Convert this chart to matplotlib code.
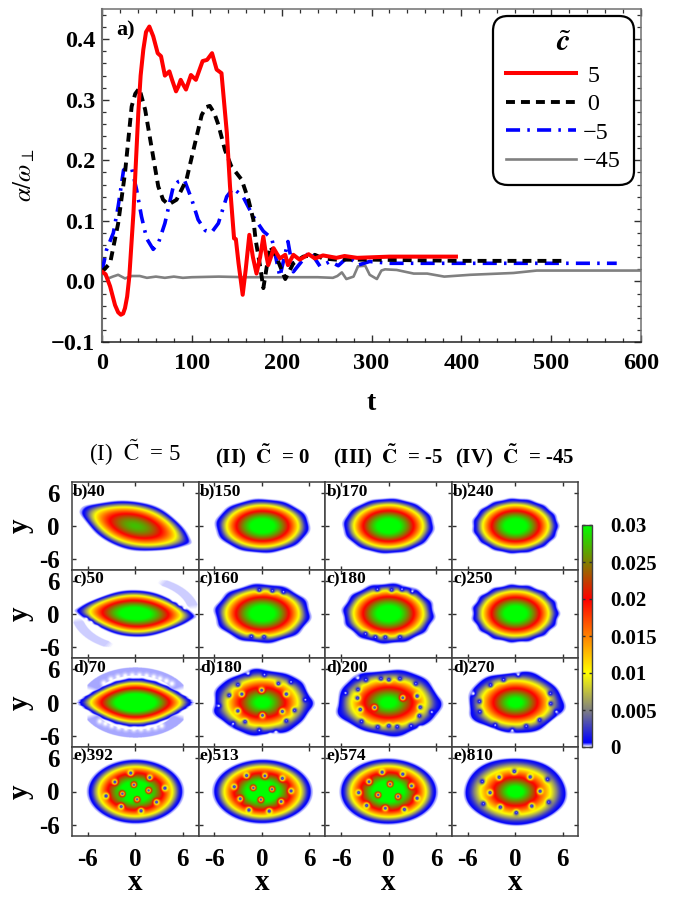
import numpy as np
import matplotlib
matplotlib.use("Agg")
import matplotlib.pyplot as plt
from matplotlib.colors import LinearSegmentedColormap, Normalize
from matplotlib.cm import ScalarMappable
from matplotlib.ticker import MultipleLocator

plt.rcParams['font.family'] = ['Liberation Serif', 'DejaVu Serif']
plt.rcParams['mathtext.fontset'] = 'stix'

# ---------- panel a) time series ----------
t_red = [0,4,9,14.5,18,21,23.5,25.6,28,30.4,35,40.4,43,46,49,52.7,57,62,65.7,70,75,78,82.4,85,87.6,90,93.5,99,104.5,112,117,122.5,127.6,133,139,142.5,147,149,152,156.6,160,164,168,172,176,179.6,182,185,188,191,195,198,204,207,213,220,230,237,246,261,270,284,320,394]
v_red = [.016,.012,-.008,-.039,-.051,-.055,-.053,-.044,-.025,.008,.113,.278,.34,.383,.412,.421,.405,.377,.372,.34,.347,.333,.314,.322,.333,.326,.317,.341,.333,.364,.366,.377,.35,.344,.245,.157,.071,.07,.03,-.022,.02,.077,.04,.013,.04,.074,.05,.027,.04,.055,.045,.038,.044,.027,.044,.036,.045,.038,.043,.039,.042,.039,.041,.041]
t_blk = [0,9,18,25.6,33,37,41.5,48,55,62.6,68,74,83,94,103.5,111,116,120,125,129.5,136.9,144,155.5,163,168.5,171,176,179.6,187,194,204,213,224,237,246,261,300,400,512]
v_blk = [.016,.03,.096,.179,.289,.31,.319,.284,.223,.157,.135,.127,.135,.168,.228,.275,.288,.29,.278,.259,.217,.19,.168,.135,.102,.069,.025,-.011,.058,.041,.004,.03,.041,.044,.038,.036,.036,.034,.034]
t_blu = [0,5,12.6,18,24,28,33,38.6,44,49.7,57,62.7,70,79.4,85,91.6,100,107,115,122,129.5,138.8,146,157,168.5,179.6,189,198,207,213,231.5,242.7,254,263,274,285,298,320,450,573]
v_blu = [.016,.052,.08,.124,.184,.188,.187,.151,.107,.071,.053,.063,.096,.157,.165,.168,.135,.102,.084,.081,.096,.14,.154,.14,.107,.083,.071,.008,.066,.016,.05,.025,.033,.026,.041,.027,.033,.03,.03,.03]
t_gry = [0,7,12,18,25.6,33,42,50,60,70,80,90,100,130,160,200,240,257,262,267,272,280,285,293,298,306,311,315,328,347,362,381,410,458,484,533,600]
v_gry = [.016,.005,.008,.011,.005,.009,.009,.006,.008,.006,.008,.006,.007,.008,.007,.007,.007,.006,.009,.015,.004,.008,.025,.026,.011,.004,.018,.02,.019,.013,.013,.008,.011,.014,.018,.018,.018]
legend_labels = ['\u20095', '\u20090', '\u22125', '\u221245']

# ---------- density panels (row by row), values in plot units ----------
col_titles = [r'(I)  $\tilde{\mathrm{C}}$  = 5', r'(II)  $\mathbf{\tilde{C}}$  = 0',
              r'(III)  $\mathbf{\tilde{C}}$  = -5', r'(IV)  $\mathbf{\tilde{C}}$  = -45']
tags = ['b)40','b)150','b)170','b)240','c)50','c)160','c)180','c)250',
        'd)70','d)180','d)200','d)270','e)392','e)513','e)574','e)810']
semi_a = [7.5,5.9,5.7,5.4, 7.5,6.0,5.75,5.45, 7.2,6.2,6.5,6.0, 6.0,6.2,6.1,6.4]
semi_b = [4.3,4.9,5.0,5.0, 4.2,5.3,5.4,5.2, 4.4,5.9,5.9,5.5, 5.75,5.75,5.9,6.0]
tilt = [-24,0,0,0, -4,0,0,0, 0,0,0,0, 0,0,-3,-8]
lens = [.45,0,0,0, .55,0,0,0, .6,0,0,0, 0,0,0,0]
peak = [.0275,.033,.033,.033, .033,.033,.033,.033, .036,.032,.032,.032, .035,.035,.035,.034]
power = [1.8,1.8,1.8,1.8, 1.8,1.8,1.8,1.8, 1.8,1.4,1.4,1.4, 1.8,1.8,1.8,1.15]
edge_modes = [
    [(9,.008,0)], [(10,.012,1.6)], [(12,.01,1.6)], [(15,.012,0)],
    [(10,.006,0)], [(10,.022,1.6)], [(12,.02,1.6)], [(15,.018,0)],
    [(26,.012,0)], [(7,.03,.5),(11,.015,0)], [(5,.035,1),(9,.02,0)], [(5,.035,.4),(8,.022,2)],
    [(4,.004,0)], [(4,.004,.6)], [(3,.006,.3)], [(5,.012,.8)],
]
vortices = [
    [], [], [], [],
    [(4.8,2.5),(5.6,1.7),(6.2,1.0),(-6.2,-1),(-5.6,-1.6),(-4.9,-2.5)],
    [(-.4,4.25),(1.25,4.1),(2.65,3.9),(-1.4,-4.1),(.2,-4.2)],
    [(-1.4,4.35),(.4,4.25),(1.7,4.35),(3,3.95),(-2.9,-3.65),(-1.65,-4.25),(-.4,-4.25),(1.45,-4.25)],
    [],
    [(-4,3.5),(-3.1,4.2),(-2.2,4.6),(-1.3,4.8),(-.4,4.9),(.5,4.9),(1.4,4.8),(2.3,4.6),(3.1,4.3),(3.9,3.9),(4.6,3.4),
     (-4.5,-3.4),(-3.8,-3.8),(-3,-4.2),(-2.1,-4.5),(-1.2,-4.7),(-.2,-4.8),(.7,-4.8),(1.6,-4.7),(2.5,-4.5),(3.3,-4.2)],
    [(-.1,2.2),(-2.6,1.5),(3,1.5),(-3.1,3.2),(2,3.4),(.25,5),(-4.2,1.3),(-3.1,-1.5),(2.5,-1.6),(4.05,-1.4),(0,-2.3),
     (-2.2,-3.45),(3,-3.3),(-.4,-5),(5.4,.5),(-5.5,-.6),(-3.7,-3.8),(-1.8,5.2),(3.6,3.7),(1,-5.8),(1.7,-5.3)],
    [(-.95,4.3),(.05,4.1),(1.45,4.3),(3.45,3.4),(-2.85,4.1),(-3.85,2.35),(-3.9,.8),(3.6,1.15),(1.8,.85),(-1.75,-.9),(-3.55,-1.25),
     (4,-.85),(3.9,-2.4),(-3.4,-3.4),(-1.35,-4.4),(.05,-4.2),(1.1,-4.35),(2.85,-4.2),(-5.4,1.7),(-3.85,4.4),(5.45,-1.7),(4,-4.5)],
    [(-4.55,.2),(-4.5,-1.65),(-3.15,3.15),(-1.5,4.1),(.35,5),(4.4,1.65),(4.45,-.2),(5.15,-1.65),(3.05,-3.15),(1.35,-4.25),(-.4,-5),(-2.55,-4.05),(-5.3,1.6)],
    [(-.6,3.3),(1.8,2.5),(-2.6,1.7),(-.2,1.2),(3.7,.6),(1.65,.2),(-1.65,-.4),(-3.7,-.8),(.2,-1.4),(2.65,-1.9),(-1.8,-2.7),(.7,-3.45)],
    [(-2,2.85),(.3,2.8),(2.5,2.35),(-3.55,.85),(-1.15,.65),(1.2,.4),(3.6,.1),(-2.8,-1.3),(-.2,-1.45),(2.35,-1.8),(-1.7,-3.3),(.85,-3.5)],
    [(-.8,3.45),(1.8,3.1),(-2.45,1.75),(.2,1.3),(2.9,1),(-3.75,-.2),(-1.3,-.6),(1.2,-.9),(3.6,-1.2),(-2.75,-2.5),(-.4,-3),(2,-3.2)],
    [(-.15,3.6),(-2.05,2.55),(1.85,2.6),(-4.2,1.8),(4.05,2.2),(-3.2,-.2),(3.1,.05),(-4.05,-2.2),(4.2,-1.9),(-1.9,-2.8),(2.05,-2.6),(.1,-3.8)],
]
# low-density clouds: panel index, semi axes, relative thickness, angle range, level
clouds = {4: [(7.4,6.3,.09,6,68,.00013),(7.4,6.3,.09,186,248,.00013)],
          8: [(6.2,5.6,.13,22,158,.00022),(6.2,5.6,.13,202,338,.00022)]}
cbar_ticks = [0,.005,.01,.015,.02,.025,.03]
cbar_labels = ['0','0.005','0.01','0.015','0.02','0.025','0.03']

W, H = 673, 898
fig = plt.figure(figsize=(W/100, H/100), dpi=100)
def box(l, t, r, b):
    return [l/W, 1-b/H, (r-l)/W, (b-t)/H]

FRAME = '#303030'
# ---------- top plot ----------
ax = fig.add_axes(box(102, 9, 641, 342))
ax.plot(t_gry, v_gry, color='#808080', lw=1.9, label=legend_labels[3], zorder=2)
ax.plot(t_blu, v_blu, color='#0000ff', lw=2.6, dashes=(3.9,2,.7,2), dash_capstyle='butt', label=legend_labels[2], zorder=3)
ax.plot(t_blk, v_blk, color='black', lw=2.8, dashes=(2.3,1.55), dash_capstyle='butt', label=legend_labels[1], zorder=4)
ax.plot(t_red, v_red, color='#ff0000', lw=2.9, label=legend_labels[0], zorder=5)
ax.set_xlim(0, 600); ax.set_ylim(-.1, .45)
ax.xaxis.set_major_locator(MultipleLocator(100)); ax.xaxis.set_minor_locator(MultipleLocator(20))
ax.yaxis.set_major_locator(MultipleLocator(.1)); ax.yaxis.set_minor_locator(MultipleLocator(.02))
ax.tick_params(which='major', direction='in', length=5, width=1, top=True, right=True, color=FRAME, labelsize=17.5)
ax.tick_params(which='minor', direction='in', length=3, width=.9, top=True, right=True, color=FRAME)
ax.tick_params(axis='x', which='major', pad=8)
ax.tick_params(axis='y', which='major', pad=5)
ax.set_yticks([-.1,0,.1,.2,.3,.4]); ax.set_yticklabels(['\u22120.1','0.0','0.1','0.2','0.3','0.4'], fontweight='bold')
ax.set_xticks(range(0,601,100)); ax.set_xticklabels([str(i) for i in range(0,601,100)], fontweight='bold')
for k, s in ax.spines.items():
    s.set_color('#707070' if k in ('left','right','top') else '#202020'); s.set_linewidth(1.5 if k == 'left' else 1.1)
ax.text(16/600, .935, 'a)', transform=ax.transAxes, fontsize=16, fontweight='bold', va='center')
fig.text(371/W, 1-404/H, 't', fontsize=20, fontweight='bold', ha='center', va='center')
fig.text(24/W, 1-175/H, r'$\alpha/\omega_{\perp}$', fontsize=18, rotation=90, ha='center', va='center')
hs, ls = ax.get_legend_handles_labels()
leg = ax.legend(hs[::-1], ls[::-1], title=r'$\tilde{\mathbfit{c}}$', loc='upper left', bbox_to_anchor=((493-102)/539, (342-16)/333),
                borderaxespad=0, prop={'size':17.4}, title_fontsize=22, handlelength=2.9, handletextpad=.26,
                labelspacing=.27, borderpad=.55, fancybox=True, framealpha=1, edgecolor='black')
leg.get_frame().set_linewidth(1.6)
leg.get_frame().set_boxstyle('round', pad=0, rounding_size=.6)
leg.set_zorder(10)

# ---------- density maps ----------
cmap = LinearSegmentedColormap.from_list('dens', [
    (0,'#ffffff'),(.02,'#0000ff'),(1/6,'#808080'),(1/3,'#ffff00'),(.5,'#ff8000'),(2/3,'#ff0000'),(5/6,'#808000'),(1,'#00ff00')], N=1024)
norm = Normalize(0, .03)
PX, PY = 126.6/16, 88.5/16
g = np.linspace(-8, 8, 420)
X, Y = np.meshgrid(g, g)

def density(i):
    ang = np.deg2rad(tilt[i])
    u = X*np.cos(ang) + Y*np.sin(ang)
    v = -X*np.sin(ang) + Y*np.cos(ang)
    uu = u/semi_a[i]
    wid = np.clip(1 - lens[i]*uu**2, .05, None)
    vv = v/(semi_b[i]*wid)
    r = np.hypot(uu, vv)
    th = np.arctan2(vv, uu)
    mod = 0
    for m, am, ph in edge_modes[i]:
        mod = mod + am*np.cos(m*th + ph)
    r = r*(1 - mod*np.minimum(r, 1)**10)
    f = 1 - (r/.93)**power[i]
    n = peak[i]*(f + np.sqrt(f**2 + .08**2))/2
    n = n*np.clip((1.0 - r)/.02, 0, 1)
    pale = .00022*np.clip((1.03 - r)/.02, 0, 1)
    n = np.maximum(n, pale)
    for ah, bh, tk, a1, a2, lev in clouds.get(i, []):
        rh = np.hypot(X/ah, Y/bh)
        ta = np.rad2deg(np.arctan2(Y/bh, X/ah)) % 360
        win = np.clip((ta - a1)/8, 0, 1)*np.clip((a2 - ta)/8, 0, 1)
        n = np.maximum(n, lev*win*(np.abs(rh - 1) < tk*(.4 + .6*win)))
    for xv, yv in vortices[i]:
        d2 = ((X - xv)*PX)**2 + ((Y - yv)*PY)**2
        n = n*(1 - np.exp(-d2/2.7**2))
    return n

lefts = [72, 198.6, 325.2, 451.8, 578.4]
tops = [481.7, 569.6, 658, 747, 836]
for i in range(16):
    row, col = divmod(i, 4)
    a = fig.add_axes(box(lefts[col], tops[row], lefts[col+1], tops[row+1]))
    a.imshow(density(i), origin='lower', extent=(-8,8,-8,8), cmap=cmap, norm=norm, aspect='auto', interpolation='bilinear')
    a.set_xticks([-6,0,6]); a.set_yticks([-6,0,6])
    a.tick_params(direction='in', length=3, width=1, top=True, right=True, color='#303030', labelsize=18, pad=9)
    a.set_xticklabels(['-6','0','6'] if row == 3 else [], fontweight='bold')
    a.set_yticklabels(['-6','0','6'] if col == 0 else [], fontweight='bold')
    for s in a.spines.values():
        s.set_color('#404040'); s.set_linewidth(1.1)
    a.text(.01, .89, tags[i], transform=a.transAxes, fontsize=12.5, fontweight='bold', va='center', ha='left')
    if col == 0:
        fig.text(20/W, 1-(tops[row]+tops[row+1])/2/H, 'y', fontsize=21, fontweight='bold', rotation=90, ha='center', va='center')
    if row == 3:
        fig.text((lefts[col]+lefts[col+1])/2/W, 1-883/H, 'x', fontsize=21, fontweight='bold', ha='center', va='center')

title_x = [135, 262, 388, 515]
title_y = [453, 456, 456, 456]
for k in range(4):
    fig.text(title_x[k]/W, 1-title_y[k]/H, col_titles[k], fontsize=16.5 if k == 0 else 15,
             fontweight='normal' if k == 0 else 'bold', ha='center', va='center')

# ---------- colour bar ----------
cax = fig.add_axes(box(582, 525, 592, 747))
cb = fig.colorbar(ScalarMappable(norm=norm, cmap=cmap), cax=cax)
cb.set_ticks(cbar_ticks); cb.set_ticklabels(cbar_labels, fontweight='bold')
cb.minorticks_off()
cax.tick_params(direction='in', length=2, width=1, left=True, right=True, color='#303030', labelsize=15, pad=13)
cb.outline.set_edgecolor('#404040'); cb.outline.set_linewidth(1)

fig.savefig('out.png', dpi=100)
